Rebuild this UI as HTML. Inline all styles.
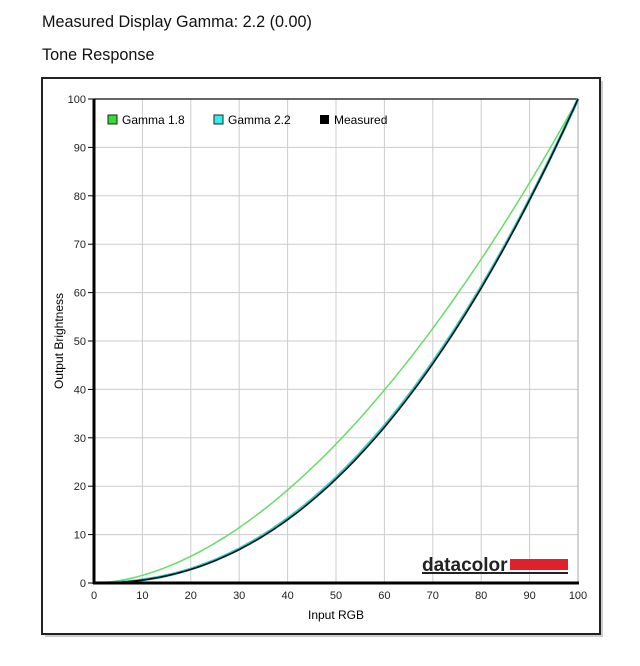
<!DOCTYPE html>
<html><head><style>
body{margin:0;background:#fff;width:640px;height:666px;overflow:hidden;font-family:"Liberation Sans",sans-serif;}
.t{position:absolute;left:42px;font-size:16.2px;color:#111;}
</style></head><body>
<div class="t" style="top:13px">Measured Display Gamma: 2.2 (0.00)</div>
<div class="t" style="top:46px">Tone Response</div>
<svg width="640" height="666" style="position:absolute;left:0;top:0" id="s">
<rect x="45" y="81" width="558" height="556" fill="#999" opacity="0.5"/>
<rect x="42" y="78" width="558" height="556" fill="#fff" stroke="#222" stroke-width="2"/>
<g id="grid" stroke="#ccc" stroke-width="1"></g>
<line x1="94" y1="99" x2="578" y2="99" stroke="#333" stroke-width="1.5"/>
<line x1="578" y1="99" x2="578" y2="583" stroke="#aaa" stroke-width="1"/>
<g id="ticks" font-size="11" fill="#222"></g>
<polyline id="g18" fill="none" stroke="#66dd66" stroke-width="1.5"/>
<polyline id="g22" fill="none" stroke="#33cccc" stroke-width="3"/>
<polyline id="gm" fill="none" stroke="#111" stroke-width="1.6"/>
<line x1="94" y1="99" x2="94" y2="584" stroke="#000" stroke-width="3"/>
<line x1="93" y1="583" x2="579" y2="583" stroke="#000" stroke-width="3"/>
<rect x="108" y="115" width="9" height="9" fill="#33dd33" stroke="#222"/>
<text x="122" y="124" font-size="12">Gamma 1.8</text>
<rect x="214" y="115" width="9" height="9" fill="#33eeee" stroke="#222"/>
<text x="228" y="124" font-size="12">Gamma 2.2</text>
<rect x="320" y="115" width="9" height="9" fill="#000"/>
<text x="334" y="124" font-size="12">Measured</text>
<text x="422" y="571" font-size="19" font-weight="bold" fill="#222">datacolor</text>
<rect x="510" y="559" width="58" height="11" fill="#e0202a"/>
<rect x="422" y="572" width="146" height="2" fill="#222"/>
<text x="336" y="619" font-size="12" text-anchor="middle">Input RGB</text>
<text transform="translate(63,341) rotate(-90)" font-size="12" text-anchor="middle">Output Brightness</text>
</svg>
<script>
var X=v=>94+v*4.84,Y=v=>583-v*4.84,ns="http://www.w3.org/2000/svg";
var g=document.getElementById('grid'),t=document.getElementById('ticks');
for(var i=0;i<=100;i+=10){
 if(i>0&&i<100){var l=document.createElementNS(ns,'line');l.setAttribute('x1',X(i));l.setAttribute('x2',X(i));l.setAttribute('y1',99);l.setAttribute('y2',583);g.appendChild(l);
 l=document.createElementNS(ns,'line');l.setAttribute('y1',Y(i));l.setAttribute('y2',Y(i));l.setAttribute('x1',94);l.setAttribute('x2',578);g.appendChild(l);}
 var a=document.createElementNS(ns,'text');a.setAttribute('x',X(i));a.setAttribute('y',599);a.setAttribute('text-anchor','middle');a.textContent=i;t.appendChild(a);
 a=document.createElementNS(ns,'text');a.setAttribute('x',86);a.setAttribute('y',Y(i)+4);a.setAttribute('text-anchor','end');a.textContent=i;t.appendChild(a);
 a=document.createElementNS(ns,'line');a.setAttribute('x1',88);a.setAttribute('x2',94);a.setAttribute('y1',Y(i));a.setAttribute('y2',Y(i));a.setAttribute('stroke','#000');t.appendChild(a);
}
function pl(id,f){var p=[];for(var i=0;i<=100;i+=1)p.push(X(i).toFixed(1)+','+Y(f(i/100)*100).toFixed(1));document.getElementById(id).setAttribute('points',p.join(' '));}
pl('g18',x=>Math.pow(x,1.8));pl('g22',x=>Math.pow(x,2.2));pl('gm',x=>Math.pow(x,2.22));
</script>
</body></html>
